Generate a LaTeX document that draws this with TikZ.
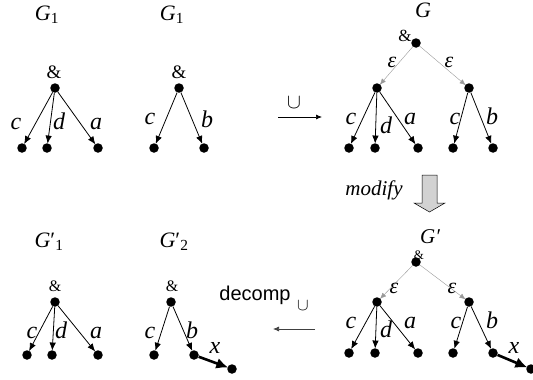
\documentclass[tikz,border=0pt]{standalone}
\usepackage{fontspec}
\setmainfont{Liberation Serif}
\setsansfont{Liberation Sans}
\usetikzlibrary{arrows.meta,backgrounds}
\begin{document}
\begin{tikzpicture}[x=1pt,y=-1pt,
 dot/.style={circle,fill=black,inner sep=0pt,minimum size=9.5pt},
 lbl/.style={anchor=base,inner sep=0pt,font=\fontsize{24}{24}\selectfont\itshape},
 glbl/.style={anchor=base,inner sep=0pt,font=\fontsize{22}{22}\selectfont},
 amp/.style={anchor=base,inner sep=0pt,font=\fontsize{19}{19}\selectfont},
 ampsm/.style={anchor=base,inner sep=0pt,font=\fontsize{16}{16}\selectfont},
 edge/.style={line width=0.8pt,-{Latex[length=8pt,width=6.5pt]},shorten >=-0.5pt},
 epsedge/.style={line width=0.4pt,draw=gray!80,-{Latex[length=6pt,width=5pt]},shorten >=-0.5pt},
 boldedge/.style={line width=2.6pt,-{Latex[length=12pt,width=11pt]},shorten >=-1pt},
 opedge/.style={line width=0.7pt,-{Latex[length=6pt,width=5pt]}},
]
\useasboundingbox (0,0) rectangle (533,380);

% ---------- Tree A (top-left) ----------
\node[glbl] (gA) at (47,20) {\textit{G}\textsubscript{1}};
\node[amp] (ampA) at (54,78) {\&};
\node[dot] (rA) at (55,88) {};
\node[dot] (a1) at (22,148) {};
\node[dot] (a2) at (47,148) {};
\node[dot] (a3) at (98,148) {};
\node[lbl] (la1) at (16,129) {c};
\node[lbl] (la2) at (59,129) {d};
\node[lbl] (la3) at (96,129) {a};

% ---------- Tree B ----------
\node[glbl] (gB) at (172,20) {\textit{G}\textsubscript{1}};
\node[amp] (ampB) at (179,78) {\&};
\node[dot] (rB) at (179,88) {};
\node[dot] (b1) at (154,148) {};
\node[dot] (b2) at (204,148) {};
\node[lbl] (lb1) at (150,124) {c};
\node[lbl] (lb2) at (207,127) {b};

% ---------- Tree G ----------
\node[lbl,font=\fontsize{22}{22}\selectfont\itshape] (gG) at (423,17) {G};
\node[amp,font=\fontsize{17}{17}\selectfont] (ampG) at (405,41) {\&};
\node[dot] (g0) at (416,43) {};
\node[dot] (gL) at (377,88) {};
\node[dot] (gR) at (469,88) {};
\node[lbl,font=\fontsize{22}{22}\selectfont\itshape] (eG1) at (392,67) {ε};
\node[lbl,font=\fontsize{22}{22}\selectfont\itshape] (eG2) at (449,67) {ε};
\node[dot] (g1) at (349,148) {};
\node[dot] (g2) at (375,148) {};
\node[dot] (g3) at (418,148) {};
\node[dot] (g4) at (453,148) {};
\node[dot] (g5) at (493,148) {};
\node[lbl] (lg1) at (351,124) {c};
\node[lbl] (lg2) at (386,133) {d};
\node[lbl] (lg3) at (410,124) {a};
\node[lbl] (lg4) at (455,124) {c};
\node[lbl] (lg5) at (492,124) {b};

% union arrow
\node[inner sep=0pt,font=\fontsize{20}{20}\selectfont] (cupT) at (294,103) {$\cup$};
\coordinate (u1) at (278,117);
\coordinate (u2) at (322,117);
\draw[opedge] (u1) -- (u2);

% modify
\node[lbl,font=\fontsize{21}{21}\selectfont\itshape] (modl) at (374,195) {modify};
\draw[fill=gray!35,line width=0.5pt] (422,175) -- (437,175) -- (437,203) -- (445,203)
  -- (429.5,212) -- (414,203) -- (422,203) -- cycle;

% ---------- Tree G' ----------
\node[lbl,font=\fontsize{21}{21}\selectfont\itshape] (gH) at (430,243) {G′};
\node[ampsm,font=\fontsize{13}{13}\selectfont] (ampH) at (419,259) {\&};
\node[dot] (h0) at (416,262) {};
\node[dot] (hL) at (377,302) {};
\node[dot] (hR) at (469,302) {};
\node[lbl,font=\fontsize{22}{22}\selectfont\itshape] (eH1) at (394,293) {ε};
\node[lbl,font=\fontsize{22}{22}\selectfont\itshape] (eH2) at (452,293) {ε};
\node[dot] (h1) at (349,353) {};
\node[dot] (h2) at (375,353) {};
\node[dot] (h3) at (418,353) {};
\node[dot] (h4) at (453,353) {};
\node[dot] (h5) at (493,353) {};
\node[dot] (h6) at (531,369) {};
\node[lbl] (lh1) at (351,328) {c};
\node[lbl] (lh2) at (386,337) {d};
\node[lbl] (lh3) at (410,328) {a};
\node[lbl] (lh4) at (456,328) {c};
\node[lbl] (lh5) at (492,328) {b};
\node[lbl] (lh6) at (514,353) {x};

% decomp arrow
\node[anchor=base,inner sep=0pt,font=\sffamily\fontsize{20}{20}\selectfont] (dec) at (255,300) {decomp};
\node[inner sep=0pt,font=\fontsize{17}{17}\selectfont] (cupB) at (303,306) {$\cup$};
\coordinate (d1) at (315,329);
\coordinate (d2) at (273,329);
\draw[opedge,draw=black!75] (d1) -- (d2);

% ---------- Tree C (bottom-left) ----------
\node[glbl] (gC) at (49,247) {\textit{G}′\textsubscript{1}};
\node[ampsm] (ampC) at (55,291) {\&};
\node[dot] (rC) at (55,302) {};
\node[dot] (c1) at (27,355) {};
\node[dot] (c2) at (52,355) {};
\node[dot] (c3) at (98,355) {};
\node[lbl] (lc1) at (32,338) {c};
\node[lbl] (lc2) at (61,338) {d};
\node[lbl] (lc3) at (96,338) {a};

% ---------- Tree D ----------
\node[glbl] (gD) at (174,247) {\textit{G}′\textsubscript{2}};
\node[ampsm] (ampD) at (172,291) {\&};
\node[dot] (rD) at (171,302) {};
\node[dot] (d1n) at (154,355) {};
\node[dot] (d2n) at (194,355) {};
\node[dot] (d3n) at (232,369) {};
\node[lbl] (ld1) at (150,338) {c};
\node[lbl] (ld2) at (192,338) {b};
\node[lbl] (ld3) at (215,353) {x};

\begin{scope}[on background layer]
\draw[edge] (rA) -- (a1);
\draw[edge] (rA) -- (a2);
\draw[edge] (rA) -- (a3);
\draw[edge] (rB) -- (b1);
\draw[edge] (rB) -- (b2);
\draw[epsedge] (g0) -- (gL);
\draw[epsedge] (g0) -- (gR);
\draw[edge] (gL) -- (g1);
\draw[edge] (gL) -- (g2);
\draw[edge] (gL) -- (g3);
\draw[edge] (gR) -- (g4);
\draw[edge] (gR) -- (g5);
\draw[epsedge] (h0) -- (hL);
\draw[epsedge] (h0) -- (hR);
\draw[edge] (hL) -- (h1);
\draw[edge] (hL) -- (h2);
\draw[edge] (hL) -- (h3);
\draw[edge] (hR) -- (h4);
\draw[edge] (hR) -- (h5);
\draw[boldedge] (h5) -- (h6);
\draw[edge] (rC) -- (c1);
\draw[edge] (rC) -- (c2);
\draw[edge] (rC) -- (c3);
\draw[edge] (rD) -- (d1n);
\draw[edge] (rD) -- (d2n);
\draw[boldedge] (d2n) -- (d3n);
\end{scope}
\end{tikzpicture}
\end{document}
